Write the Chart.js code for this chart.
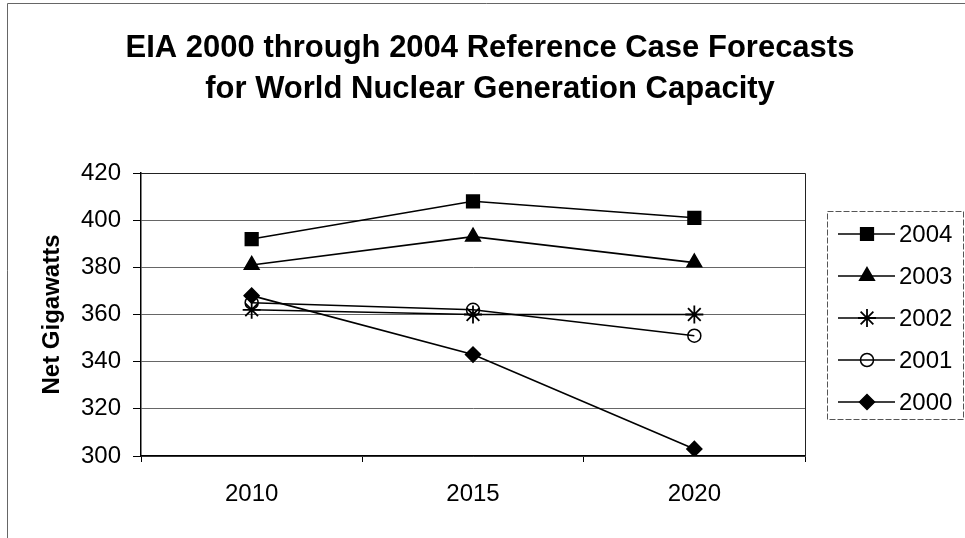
<!DOCTYPE html>
<html>
<head>
<meta charset="utf-8">
<script src="https://cdn.jsdelivr.net/npm/chart.js@4/dist/chart.umd.min.js"></script>
<style>
  html, body { margin: 0; padding: 0; background: #fff; }
  #wrap { width: 965px; height: 538px; }
</style>
</head>
<body>
<div id="wrap"><canvas id="nukeChart" width="965" height="538"></canvas></div>
<script>
// forecast years on the x axis
const years = ['2010', '2015', '2020'];
// one series per EIA forecast edition
const seriesNames = ['2004', '2003', '2002', '2001', '2000'];
const cap2004 = [392, 408, 401];
const cap2003 = [381, 393, 382];
const cap2002 = [362, 360, 360];
const cap2001 = [365, 362, 351];
const cap2000 = [368, 343, 303];
const yMin = 300, yMax = 420, yStep = 20;
const titleLines = ['EIA 2000 through 2004 Reference Case Forecasts', 'for World Nuclear Generation Capacity'];
const yTitle = 'Net Gigawatts';

const FONT = '"Liberation Sans", Arial, sans-serif';
const seriesValues = [cap2004, cap2003, cap2002, cap2001, cap2000];
const markers = [
  { style: 'rect', radius: 9, fill: '#000' },
  { style: 'triangle', radius: 8.5, fill: '#000' },
  { style: 'star', radius: 9, fill: '#000' },
  { style: 'circle', radius: 6.5, fill: 'rgba(0,0,0,0)' },
  { style: 'rectRot', radius: 7.5, fill: '#000' }
];

function makeDataset(i) {
  return {
    label: seriesNames[i],
    data: seriesValues[i],
    borderColor: '#000',
    borderWidth: 1.6,
    backgroundColor: markers[i].fill,
    pointStyle: markers[i].style,
    pointRadius: markers[i].radius,
    pointHoverRadius: markers[i].radius,
    pointBackgroundColor: markers[i].fill,
    pointBorderColor: '#000',
    pointBorderWidth: markers[i].style === 'star' ? 1.8 : 1.5,
    tension: 0
  };
}

// draws title, frames and the line+marker legend
const decorations = {
  id: 'decorations',
  afterDraw(chart) {
    const ctx = chart.ctx;
    const area = chart.chartArea;
    ctx.save();

    // outer chart frame (left and top only visible in the scan)
    ctx.strokeStyle = '#666';
    ctx.lineWidth = 1;
    ctx.beginPath();
    ctx.moveTo(7.5, 538);
    ctx.lineTo(7.5, 3.5);
    ctx.lineTo(965, 3.5);
    ctx.stroke();

    // plot area top and right edges
    ctx.strokeStyle = '#222';
    ctx.beginPath();
    ctx.moveTo(area.left, area.top + 0.5);
    ctx.lineTo(area.right + 0.5, area.top + 0.5);
    ctx.lineTo(area.right + 0.5, area.bottom);
    ctx.stroke();

    // title
    ctx.fillStyle = '#000';
    ctx.font = 'bold 31px ' + FONT;
    ctx.textAlign = 'center';
    ctx.textBaseline = 'alphabetic';
    ctx.fillText(titleLines[0], 490, 57);
    ctx.fillText(titleLines[1], 490, 98);

    // legend box
    ctx.strokeStyle = '#555';
    ctx.lineWidth = 1;
    ctx.setLineDash([6, 2]);
    ctx.strokeRect(827.5, 211.5, 136, 208);
    ctx.setLineDash([]);
    ctx.font = '24px ' + FONT;
    ctx.textAlign = 'left';
    ctx.textBaseline = 'middle';
    chart.data.datasets.forEach((ds, i) => {
      const y = 234 + i * 42;
      ctx.strokeStyle = '#000';
      ctx.lineWidth = 1.6;
      ctx.beginPath();
      ctx.moveTo(838, y);
      ctx.lineTo(895, y);
      ctx.stroke();
      ctx.fillStyle = ds.pointBackgroundColor;
      ctx.strokeStyle = '#000';
      ctx.lineWidth = ds.pointBorderWidth;
      Chart.helpers.drawPoint(ctx, { pointStyle: ds.pointStyle, radius: ds.pointRadius, borderWidth: ds.pointBorderWidth, rotation: 0 }, 867, y);
      ctx.fillStyle = '#000';
      ctx.fillText(ds.label, 899, y + 1);
    });
    ctx.restore();
  }
};

const ctx = document.getElementById('nukeChart');
new Chart(ctx, {
  type: 'line',
  data: {
    labels: years,
    datasets: seriesNames.map((n, i) => makeDataset(i))
  },
  options: {
    responsive: false,
    animation: false,
    layout: { padding: { top: 173, right: 160, bottom: 22, left: 0 } },
    plugins: {
      legend: { display: false },
      title: { display: false },
      tooltip: { enabled: false }
    },
    scales: {
      x: {
        type: 'category',
        offset: true,
        afterFit(scale) { scale.height = 60; },
        grid: {
          display: true,
          drawOnChartArea: false,
          offset: true,
          tickLength: 6,
          tickColor: '#000'
        },
        border: { color: '#000', width: 1.5 },
        ticks: {
          color: '#000',
          padding: 18,
          font: { family: FONT, size: 24 }
        }
      },
      y: {
        min: yMin,
        max: yMax,
        afterFit(scale) { scale.width = 141; },
        grid: {
          color: '#666',
          lineWidth: 1,
          borderDash: [6, 4],
          tickLength: 8,
          tickColor: '#000',
          tickBorderDash: []
        },
        border: { color: '#000', width: 1.5 },
        ticks: {
          stepSize: yStep,
          color: '#000',
          padding: 12,
          font: { family: FONT, size: 24 }
        },
        title: {
          display: true,
          text: yTitle,
          color: '#000',
          padding: { top: 38, bottom: 0 },
          font: { family: FONT, size: 24, weight: 'bold' }
        }
      }
    }
  },
  plugins: [decorations]
});
</script>
</body>
</html>
